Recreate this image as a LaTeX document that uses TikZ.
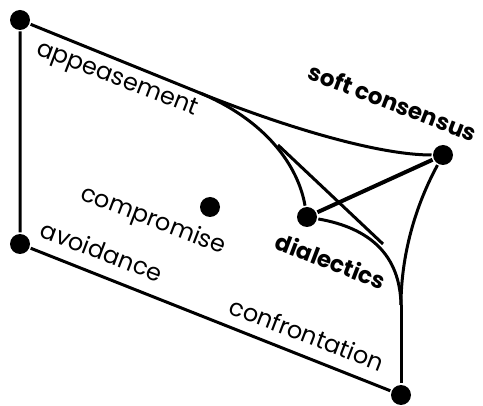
\documentclass[tikz,border=0pt]{standalone}
\usepackage{fontspec}
\setmainfont{Poppins}
\usetikzlibrary{positioning}

\begin{document}
\begin{tikzpicture}[x=1pt,y=-1pt,line width=3pt,
    dot/.style={circle,fill,inner sep=0pt,minimum size=20pt},
    lbl/.style={font=\fontsize{24}{28}\selectfont,rotate=-21,inner sep=0pt},
    boldlbl/.style={lbl,font=\fontsize{23}{27}\selectfont\bfseries}]
    \useasboundingbox (0,0) rectangle (483,406);
    \node[dot] (appease) at (20,20) {};
    \node[dot] (avoid) at (20,244) {};
    \node[dot] (confront) at (401,395) {};
    \node[dot] (soft) at (443,155) {};
    \node[dot] (dialect) at (307,217) {};
    \node[dot] (comp) at (210,207) {};
    \coordinate (split) at (200,93);
    \coordinate (merge) at (401,305);
    \coordinate (tanA) at (278,145);
    \coordinate (tanB) at (383,244);

    \node[lbl] (appeaselbl) at (117,80) {appeasement};
    \node[lbl] (complbl) at (153,221) {compromise};
    \node[lbl] (avoidlbl) at (102,251) {avoidance};
    \node[lbl] (confrontlbl) at (307,334) {confrontation};
    \node[boldlbl] (softlbl) at (393,102) {soft consensus};
    \node[boldlbl] (dialectlbl) at (331,261) {dialectics};

    \draw (appease) -- (avoid) -- (confront);
    \draw (appease) -- (split);
    \draw (split) .. controls (290,129) and (380,155) .. (soft);
    \draw (split) .. controls (265,120) and (298,165) .. (dialect);
    \draw (tanA) -- (tanB);
    \draw[line width=4pt] (dialect) -- (soft);
    \draw (dialect) .. controls (370,228) and (400,255) .. (merge);
    \draw (soft) .. controls (412,212) and (401,262) .. (merge);
    \draw (merge) -- (confront);
\end{tikzpicture}
\end{document}
